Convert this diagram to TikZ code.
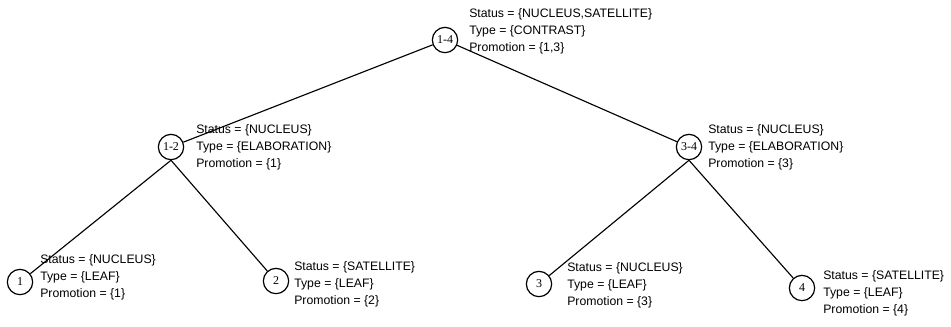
\documentclass[tikz,border=0pt]{standalone}
\usepackage{fontspec}
\setmainfont{Liberation Serif}
\setsansfont{Liberation Sans}
\usepackage{xcolor}
\usepackage{tikz}

\tikzset{
  span/.style={draw, circle, line width=0.9pt, minimum size=19pt, inner sep=0pt, font=\fontsize{9}{10}\selectfont},
  attr/.style={anchor=west, inner sep=0.75pt, align=left, font=\sffamily\fontsize{9.2}{12.75}\selectfont},
  branch/.style={line width=0.85pt}
}

\begin{document}
\begin{tikzpicture}[x=0.75pt,y=0.75pt,yscale=-1,xscale=1]
\useasboundingbox (0,0) rectangle (951,326);

% Span nodes
\node [span] (n14) at (445,40) {1-4};
\node [span] (n12) at (171,147) {1-2};
\node [span] (n34) at (689,147) {3-4};
\node [span] (n1) at (20,282) {1};
\node [span] (n2) at (276,281) {2};
\node [span] (n3) at (539,284) {3};
\node [span] (n4) at (802,288) {4};

% Branches
\draw [branch] (n14) -- (n12);
\draw [branch] (n14) -- (n34);
\draw [branch] (n12.south) -- (n1);
\draw [branch] (n12.south) -- (n2);
\draw [branch] (n34.south) -- (n3);
\draw [branch] (n34.south) -- (n4);

% Text Node
\node [attr] (t14) at (468,31) {Status = \{NUCLEUS,SATELLITE\}\\Type = \{CONTRAST\}\\Promotion = \{1,3\}};
% Text Node
\node [attr] (t12) at (195,147) {Status = \{NUCLEUS\}\\Type = \{ELABORATION\}\\Promotion = \{1\}};
% Text Node
\node [attr] (t34) at (707,147) {Status = \{NUCLEUS\}\\Type = \{ELABORATION\}\\Promotion = \{3\}};
% Text Node
\node [attr] (t1) at (39,277) {Status = \{NUCLEUS\}\\Type = \{LEAF\}\\Promotion = \{1\}};
% Text Node
\node [attr] (t2) at (293,284) {Status = \{SATELLITE\}\\Type = \{LEAF\}\\Promotion = \{2\}};
% Text Node
\node [attr] (t3) at (566,285) {Status = \{NUCLEUS\}\\Type = \{LEAF\}\\Promotion = \{3\}};
% Text Node
\node [attr] (t4) at (822,293) {Status = \{SATELLITE\}\\Type = \{LEAF\}\\Promotion = \{4\}};

\end{tikzpicture}
\end{document}
